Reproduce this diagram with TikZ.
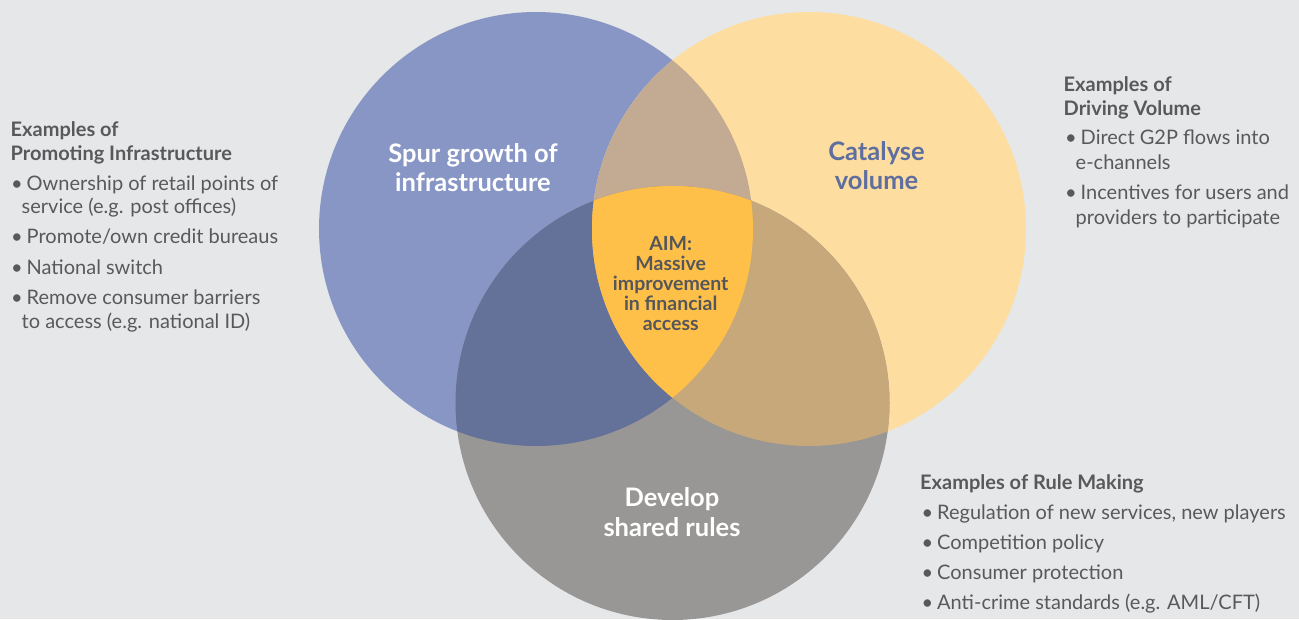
\documentclass[tikz,border=0pt]{standalone}
\usepackage{fontspec}
\setmainfont{Lato}
\definecolor{bgc}{HTML}{E6E7E9}
\definecolor{bluec}{HTML}{8896C6}
\definecolor{yelc}{HTML}{FDDDA0}
\definecolor{grayc}{HTML}{989795}
\definecolor{byc}{HTML}{C3AA92}
\definecolor{bgrc}{HTML}{647199}
\definecolor{ygc}{HTML}{C7A87A}
\definecolor{cenc}{HTML}{FFC04A}
\definecolor{txtc}{HTML}{58595B}
\definecolor{aimc}{HTML}{55565A}
\definecolor{catc}{HTML}{5E6E9F}
\newcommand{\mybul}{\makebox[15.5pt][l]{•}}
\begin{document}
\begin{tikzpicture}[x=1pt,y=-1pt,
  bd/.style={anchor=base west,inner sep=0pt,text=txtc,font=\fontsize{20}{24}\selectfont},
  hd/.style={bd,font=\fontsize{20}{24}\selectfont\bfseries},
  lbl/.style={anchor=base,inner sep=0pt,text=white,font=\fontsize{25.5}{29}\selectfont\bfseries},
  aim/.style={anchor=base,inner sep=0pt,text=aimc,font=\fontsize{19.5}{20}\selectfont\bfseries}]
\useasboundingbox (0,0) rectangle (1299,619);
\fill[bgc] (0,0) rectangle (1299,619);
\coordinate (cb) at (536,229);
\coordinate (cy) at (809,229);
\coordinate (cg) at (672.5,403);
\def\R{217pt}
\fill[bluec] (cb) circle[radius=\R];
\fill[yelc] (cy) circle[radius=\R];
\fill[grayc] (cg) circle[radius=\R];
\begin{scope}
  \clip (cb) circle[radius=\R];
  \fill[byc] (cy) circle[radius=\R];
  \fill[bgrc] (cg) circle[radius=\R];
  \clip (cy) circle[radius=\R];
  \fill[cenc] (cg) circle[radius=\R];
\end{scope}
\begin{scope}
  \clip (cy) circle[radius=\R];
  \clip (cg) circle[radius=\R];
  \fill[ygc] (cb) ++(-300,-300) rectangle ++(1000,1000);
  \clip (cb) circle[radius=\R];
  \fill[cenc] (cb) ++(-300,-300) rectangle ++(1000,1000);
\end{scope}
% circle labels
\node[lbl] (spur1) at (473,162) {Spur growth of};
\node[lbl] (spur2) at (473,191.5) {infrastructure};
\node[lbl,text=catc] (cat1) at (876.5,160) {Catalyse};
\node[lbl,text=catc] (cat2) at (876.5,189.5) {volume};
\node[lbl] (dev1) at (672,506.5) {Develop};
\node[lbl] (dev2) at (672,536.5) {shared rules};
\node[aim] (aim1) at (670.7,250) {AIM:};
\node[aim] (aim2) at (670.7,270) {Massive};
\node[aim] (aim3) at (670.7,290) {improvement};
\node[aim] (aim4) at (670.7,310.5) {in financial};
\node[aim] (aim5) at (670.7,330) {access};
% left block
\node[hd] (lh1) at (10.5,136) {Examples of};
\node[hd] (lh2) at (10.5,160) {Promoting Infrastructure};
\node[bd] (l1) at (11,190) {\mybul Ownership of retail points of};
\node[bd] (l1b) at (21.5,213.5) {service (e.g. post offices)};
\node[bd] (l2) at (11,243.5) {\mybul Promote/own credit bureaus};
\node[bd] (l3) at (11,274) {\mybul National switch};
\node[bd] (l4) at (11,304.5) {\mybul Remove consumer barriers};
\node[bd] (l4b) at (21.5,328.5) {to access (e.g. national ID)};
% right top block
\node[hd] (rh1) at (1063.5,91) {Examples of};
\node[hd] (rh2) at (1063.5,115) {Driving Volume};
\node[bd] (r1) at (1065,144) {\mybul Direct G2P flows into};
\node[bd] (r1b) at (1075.5,169) {e-channels};
\node[bd] (r2) at (1065,199) {\mybul Incentives for users and};
\node[bd] (r2b) at (1075.5,224) {providers to participate};
% bottom right block
\node[hd] (bh) at (920,489.5) {Examples of Rule Making};
\node[bd] (b1) at (921.5,519.5) {\mybul Regulation of new services, new players};
\node[bd] (b2) at (921.5,549.5) {\mybul Competition policy};
\node[bd] (b3) at (921.5,579.5) {\mybul Consumer protection};
\node[bd] (b4) at (921.5,609.5) {\mybul Anti-crime standards (e.g. AML/CFT)};
\end{tikzpicture}
\end{document}
